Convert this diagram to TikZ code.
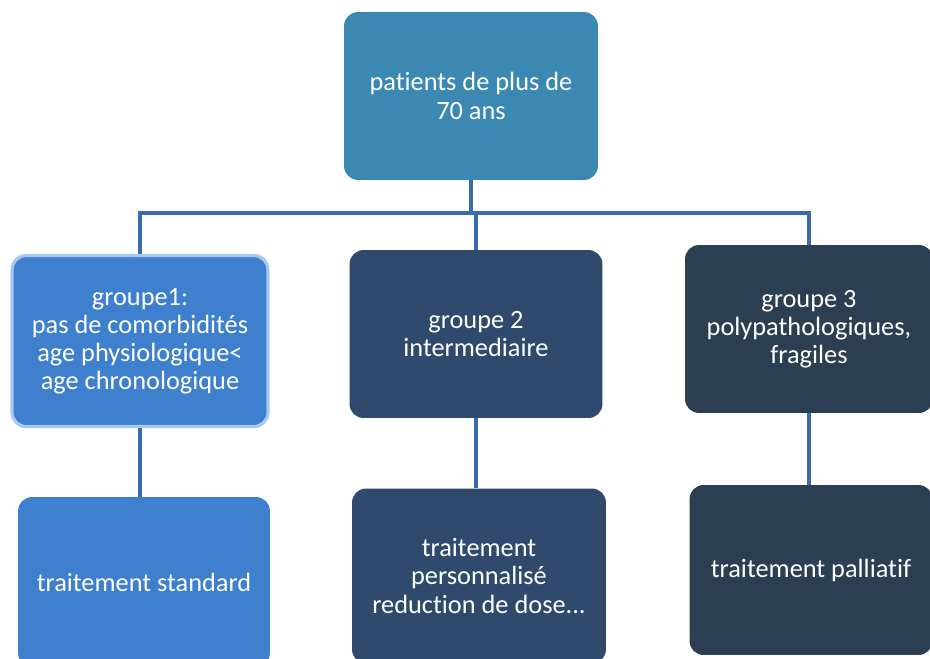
\documentclass[tikz,border=0pt]{standalone}
\usepackage{fontspec}
\setmainfont{Carlito}[Ligatures={NoCommon,NoDiscretionary,NoRare}]
\definecolor{topblue}{HTML}{3B88B2}
\definecolor{lightblue}{HTML}{3E80CE}
\definecolor{rimblue}{HTML}{A6C9F0}
\definecolor{navy}{HTML}{2F4A6D}
\definecolor{slate}{HTML}{2C3E52}
\definecolor{linkblue}{HTML}{3A6BAE}
\begin{document}
\begin{tikzpicture}[x=0.02cm,y=-0.02cm,
  box/.style={rounded corners=8pt,text=white,align=center,font=\fontsize{15}{16}\selectfont,inner sep=0pt},
  link/.style={draw=linkblue,line width=2.2pt}]
\clip (0,0) rectangle (930,659);
\fill[white] (0,0) rectangle (930,659);
\node[box,fill=topblue,minimum width=5.08cm,minimum height=3.36cm] (top) at (471,96) {patients de plus de\\70 ans};
\node[box,fill=lightblue,draw=rimblue,line width=1.8pt,minimum width=5.12cm,minimum height=3.42cm] (g1) at (140,341) {groupe1:\\pas de comorbidités\\age physiologique<\\age chronologique};
\node[box,fill=navy,minimum width=5.06cm,minimum height=3.36cm] (g2) at (476,334) {groupe 2\\intermediaire};
\node[box,fill=slate,minimum width=4.96cm,minimum height=3.36cm] (g3) at (809,329) {groupe 3\\polypathologiques,\\fragiles};
\node[box,fill=lightblue,minimum width=5.04cm,minimum height=3.4cm] (b1) at (144,582) {traitement standard};
\node[box,fill=navy,minimum width=5.08cm,minimum height=3.5cm] (b2) at (479,576) {traitement\\personnalisé\\reduction de dose...};
\node[box,fill=slate,minimum width=4.86cm,minimum height=3.4cm] (b3) at (811,570) {traitement palliatif};
\coordinate (bus) at (471,213);
\draw[link] (top.south) -- (bus);
\draw[link] (g1.north) |- (bus) -| (g3.north);
\draw[link] (g2.north |- bus) -- (g2.north);
\draw[link] (g1.south) -- (g1.south |- b1.north);
\draw[link] (g2.south) -- (g2.south |- b2.north);
\draw[link] (g3.south) -- (g3.south |- b3.north);
\end{tikzpicture}
\end{document}
